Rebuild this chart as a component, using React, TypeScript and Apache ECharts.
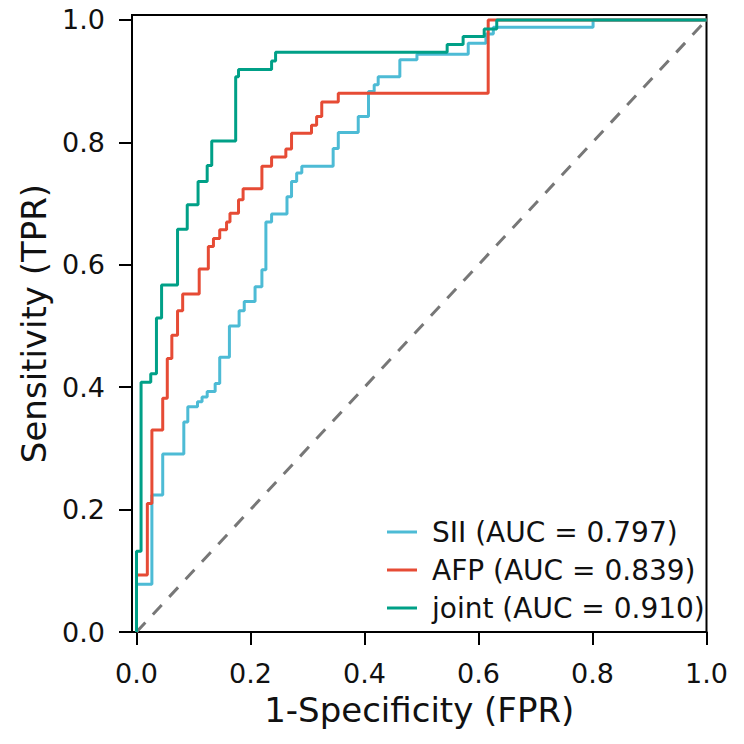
import React, { useEffect, useRef } from "react";
import * as echarts from "echarts";

const TICK_VALUES = [0, 0.2, 0.4, 0.6, 0.8, 1.0];
const SERIES_NAMES = ["SII (AUC = 0.797)", "AFP (AUC = 0.839)", "joint (AUC = 0.910)"];
const COLORS = ["#4DBBD5", "#E64B35", "#00A087"];

const siiFpr = [0, 0, 0.027, 0.027, 0.046, 0.046, 0.083, 0.083, 0.09, 0.09, 0.107, 0.107, 0.115, 0.115, 0.124, 0.124, 0.138, 0.138, 0.146, 0.146, 0.163, 0.163, 0.18, 0.18, 0.189, 0.189, 0.208, 0.208, 0.22, 0.22, 0.227, 0.227, 0.237, 0.237, 0.264, 0.264, 0.272, 0.272, 0.281, 0.281, 0.29, 0.29, 0.345, 0.345, 0.354, 0.354, 0.389, 0.389, 0.407, 0.407, 0.417, 0.417, 0.424, 0.424, 0.462, 0.462, 0.492, 0.492, 0.582, 0.582, 0.613, 0.613, 0.626, 0.626, 0.801, 0.801, 1];
const siiTpr = [0, 0.078, 0.078, 0.224, 0.224, 0.291, 0.291, 0.343, 0.343, 0.368, 0.368, 0.376, 0.376, 0.384, 0.384, 0.393, 0.393, 0.406, 0.406, 0.449, 0.449, 0.5, 0.5, 0.525, 0.525, 0.54, 0.54, 0.564, 0.564, 0.592, 0.592, 0.67, 0.67, 0.683, 0.683, 0.711, 0.711, 0.736, 0.736, 0.75, 0.75, 0.761, 0.761, 0.79, 0.79, 0.816, 0.816, 0.842, 0.842, 0.883, 0.883, 0.894, 0.894, 0.907, 0.907, 0.935, 0.935, 0.944, 0.944, 0.962, 0.962, 0.977, 0.977, 0.988, 0.988, 1, 1];

const afpFpr = [0, 0, 0.019, 0.019, 0.027, 0.027, 0.046, 0.046, 0.054, 0.054, 0.062, 0.062, 0.072, 0.072, 0.081, 0.081, 0.11, 0.11, 0.126, 0.126, 0.135, 0.135, 0.146, 0.146, 0.158, 0.158, 0.164, 0.164, 0.179, 0.179, 0.187, 0.187, 0.22, 0.22, 0.237, 0.237, 0.262, 0.262, 0.272, 0.272, 0.307, 0.307, 0.316, 0.316, 0.325, 0.325, 0.354, 0.354, 0.617, 0.617, 1];
const afpTpr = [0, 0.093, 0.093, 0.21, 0.21, 0.33, 0.33, 0.382, 0.382, 0.447, 0.447, 0.485, 0.485, 0.525, 0.525, 0.552, 0.552, 0.593, 0.593, 0.63, 0.63, 0.643, 0.643, 0.657, 0.657, 0.67, 0.67, 0.684, 0.684, 0.706, 0.706, 0.724, 0.724, 0.761, 0.761, 0.776, 0.776, 0.789, 0.789, 0.815, 0.815, 0.828, 0.828, 0.842, 0.842, 0.866, 0.866, 0.88, 0.88, 1, 1];

const jointFpr = [0, 0, 0.008, 0.008, 0.025, 0.025, 0.035, 0.035, 0.044, 0.044, 0.072, 0.072, 0.089, 0.089, 0.108, 0.108, 0.124, 0.124, 0.132, 0.132, 0.174, 0.174, 0.179, 0.179, 0.237, 0.237, 0.244, 0.244, 0.545, 0.545, 0.573, 0.573, 0.61, 0.61, 0.632, 0.632, 1];
const jointTpr = [0, 0.132, 0.132, 0.408, 0.408, 0.422, 0.422, 0.513, 0.513, 0.567, 0.567, 0.658, 0.658, 0.698, 0.698, 0.736, 0.736, 0.762, 0.762, 0.802, 0.802, 0.907, 0.907, 0.919, 0.919, 0.933, 0.933, 0.947, 0.947, 0.96, 0.96, 0.973, 0.973, 0.985, 0.985, 1, 1];

const diagX = [0, 1];
const diagY = [0, 1];

const zip = (xs: number[], ys: number[]) => xs.map((x, i) => [x, ys[i]]);

const FONT = "DejaVu Sans";

export default function App() {
  const ref = useRef<HTMLDivElement>(null);
  useEffect(() => {
    if (!ref.current) return;
    const chart = echarts.init(ref.current, undefined, { renderer: "svg" });
    const curves = [zip(siiFpr, siiTpr), zip(afpFpr, afpTpr), zip(jointFpr, jointTpr)];
    chart.setOption({
      animation: false,
      backgroundColor: "#ffffff",
      grid: {
        left: 132,
        top: 15,
        right: 37.5,
        bottom: 112,
        show: true,
        borderColor: "#000",
        borderWidth: 2,
        backgroundColor: "transparent",
      },
      legend: {
        data: SERIES_NAMES,
        orient: "vertical",
        left: 382,
        top: 513,
        icon: "rect",
        itemWidth: 30,
        itemHeight: 3,
        itemGap: 10,
        textStyle: {
          fontFamily: FONT,
          fontSize: 28,
          color: "#111",
          lineHeight: 28,
          padding: [0, 0, 0, 10],
        },
      },
      xAxis: {
        type: "value",
        min: -0.0079,
        max: 1,
        name: "1-Specificity (FPR)",
        nameLocation: "middle",
        nameGap: 61,
        nameTextStyle: { fontFamily: FONT, fontSize: 34, color: "#111" },
        axisLine: { show: true, onZero: false, lineStyle: { color: "#000", width: 2 } },
        axisTick: {
          show: true,
          customValues: TICK_VALUES,
          length: 13,
          lineStyle: { color: "#000", width: 2 },
        },
        axisLabel: {
          customValues: TICK_VALUES,
          formatter: (v: number) => v.toFixed(1),
          fontFamily: FONT,
          fontSize: 27,
          color: "#111",
          margin: 28,
        },
        splitLine: { show: false },
      },
      yAxis: {
        type: "value",
        min: 0,
        max: 1.008,
        name: "Sensitivity (TPR)",
        nameLocation: "middle",
        nameGap: 80,
        nameTextStyle: { fontFamily: FONT, fontSize: 34, color: "#111" },
        axisLine: { show: true, onZero: false, lineStyle: { color: "#000", width: 2 } },
        axisTick: {
          show: true,
          customValues: TICK_VALUES,
          length: 13,
          lineStyle: { color: "#000", width: 2 },
        },
        axisLabel: {
          customValues: TICK_VALUES,
          formatter: (v: number) => v.toFixed(1),
          fontFamily: FONT,
          fontSize: 27,
          color: "#111",
          margin: 27,
        },
        splitLine: { show: false },
      },
      series: [
        {
          type: "line",
          name: "diagonal",
          data: zip(diagX, diagY),
          showSymbol: false,
          silent: true,
          lineStyle: { color: "#777", width: 3, type: [13, 11] },
          z: 1,
        },
        ...SERIES_NAMES.map((name, i) => ({
          type: "line",
          name,
          data: curves[i],
          showSymbol: false,
          symbol: "none",
          color: COLORS[i],
          lineStyle: { color: COLORS[i], width: 3 },
          z: 2 + i,
        })),
      ],
    });
    return () => chart.dispose();
  }, []);
  return (
    <div
      ref={ref}
      style={{ position: "fixed", left: 0, top: 0, width: 744, height: 744, background: "#fff" }}
    />
  );
}
